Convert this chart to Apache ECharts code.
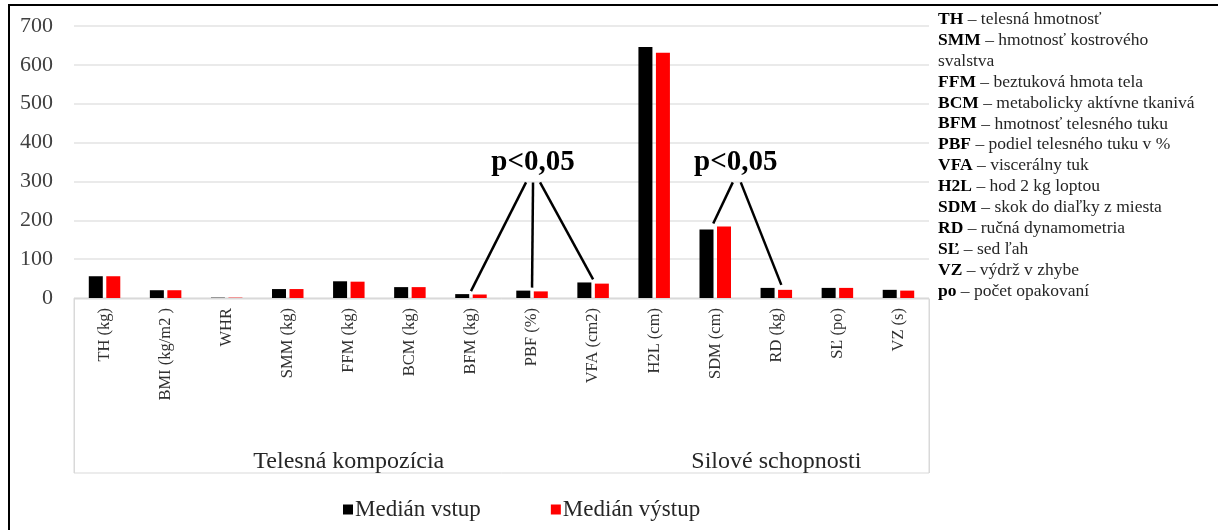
<!DOCTYPE html>
<html>
<head>
<meta charset="utf-8">
<script src="https://cdn.jsdelivr.net/npm/echarts@6/dist/echarts.min.js"></script>
<style>html,body{margin:0;padding:0;background:#fff}#c{width:1218px;height:530px}</style>
</head>
<body>
<div id="c"></div>
<script>
const categories = ["TH (kg)", "BMI (kg/m2 )", "WHR", "SMM (kg)", "FFM (kg)", "BCM (kg)", "BFM (kg)", "PBF (%)", "VFA (cm2)", "H2L (cm)", "SDM (cm)", "RD (kg)", "SĽ (po)", "VZ (s)"];
const groups = [["Telesná kompozícia", 9], ["Silové schopnosti", 5]];
const seriesNames = ["Medián vstup", "Medián výstup"];
const vstup = [56, 20, 0.9, 23, 43, 28, 10, 19, 40, 646, 176, 26, 26, 21];
const vystup = [56, 20, 0.9, 23, 42, 28, 9, 17, 37, 631, 184, 21, 26, 19];
const yTicks = [0, 100, 200, 300, 400, 500, 600, 700];
const sigLabel = "p<0,05";
const sigGroups = [[6, 7, 8], [10, 11]];
const abbrev = [
  ["TH", "telesná hmotnosť"],
  ["SMM", "hmotnosť kostrového\nsvalstva"],
  ["FFM", "beztuková hmota tela"],
  ["BCM", "metabolicky aktívne tkanivá"],
  ["BFM", "hmotnosť telesného tuku"],
  ["PBF", "podiel telesného tuku v %"],
  ["VFA", "viscerálny tuk"],
  ["H2L", "hod 2 kg loptou"],
  ["SDM", "skok do diaľky z miesta"],
  ["RD", "ručná dynamometria"],
  ["SĽ", "sed ľah"],
  ["VZ", "výdrž v zhybe"],
  ["po", "počet opakovaní"]
];

const SERIF = '"Liberation Serif", "DejaVu Serif", serif';
const groupAxisData = [];
const groupLabelIdx = {};
const groupBoundaries = [];
let acc = 0;
groups.forEach(([name, n]) => {
  for (let i = 0; i < n; i++) groupAxisData.push(name);
  groupLabelIdx[acc + Math.floor(n / 2)] = true;
  if (acc > 0) groupBoundaries.push(acc);
  acc += n;
});

const chart = echarts.init(document.getElementById('c'), null, {renderer: 'canvas'});
const GL = 74, GR = 289;
const option = {
  animation: false,
  backgroundColor: '#fff',
  textStyle: {fontFamily: SERIF},
  grid: [
    {left: GL, right: GR, top: 26, bottom: 232, outerBoundsMode: 'none'},
    {left: GL, right: GR, top: 299, bottom: 57, outerBoundsMode: 'none', show: true, borderColor: '#d9d9d9', borderWidth: 1, backgroundColor: 'transparent'}
  ],
  legend: {
    data: seriesNames,
    left: 338, top: 493,
    icon: 'rect', itemWidth: 10, itemHeight: 10, itemGap: 70,
    textStyle: {fontFamily: SERIF, fontSize: 23, color: '#262626', padding: [0, 0, 0, -3]}
  },
  xAxis: [
    {
      type: 'category', gridIndex: 0, data: categories,
      axisLine: {show: true, lineStyle: {color: '#d9d9d9', width: 1}},
      axisTick: {show: false},
      axisLabel: {rotate: 90, interval: 0, margin: 10, fontFamily: SERIF, fontSize: 16.5, color: '#303030'}
    },
    {
      type: 'category', gridIndex: 1, data: groupAxisData,
      axisLine: {show: false}, axisTick: {show: false},
      splitLine: {show: true, interval: (i) => groupBoundaries.indexOf(i) >= 0, lineStyle: {color: '#d9d9d9', width: 1}},
      axisLabel: {inside: true, margin: -1, interval: (i) => !!groupLabelIdx[i], fontFamily: SERIF, fontSize: 24, color: '#262626'}
    }
  ],
  yAxis: [
    {
      type: 'value', gridIndex: 0, min: yTicks[0], max: yTicks[yTicks.length - 1], interval: 100,
      axisLine: {show: false}, axisTick: {show: false},
      splitLine: {lineStyle: {color: '#e3e3e3', width: 1.5}},
      axisLabel: {margin: 21, fontFamily: SERIF, fontSize: 22, color: '#404040'}
    },
    {type: 'value', gridIndex: 1, show: false, min: 0, max: 1}
  ],
  series: [
    {name: seriesNames[0], type: 'bar', data: vstup, barWidth: 14, barGap: '25%', itemStyle: {color: '#000000'}},
    {name: seriesNames[1], type: 'bar', data: vystup, barWidth: 14, barGap: '25%', itemStyle: {color: '#ff0000'}}
  ]
};
chart.setOption(option);

function px(cat, val) { return chart.convertToPixel({xAxisIndex: 0, yAxisIndex: 0}, [cat, val]); }
const graphics = [];
graphics.push({type: 'rect', shape: {x: 9, y: 5, width: 1240, height: 560}, style: {fill: 'none', stroke: '#000', lineWidth: 2}, silent: true});

const textVal = 349;
const sigCenters = [px(sigGroups[0][1], textVal)[0] + 1, (px(sigGroups[1][0], textVal)[0] + px(sigGroups[1][1], textVal)[0]) / 2 - 10];
sigGroups.forEach((g, gi) => {
  const cx = sigCenters[gi];
  const cy = px(0, textVal)[1];
  graphics.push({type: 'text', x: cx, y: cy, style: {text: sigLabel, fontFamily: SERIF, fontWeight: 'bold', fontSize: 29, fill: '#000', align: 'center', verticalAlign: 'middle'}});
  const sy = cy + 20;
  g.forEach((cat, k) => {
    const top = Math.max(vstup[cat], vystup[cat]);
    const end = px(cat, top);
    const sx = cx + (g.length === 3 ? (k - 1) * 7 : (k === 0 ? -3 : 5));
    let ex = end[0];
    if (gi === 1 && k === 0) ex -= 2;
    if (gi === 1 && k === 1) ex += 5;
    graphics.push({type: 'line', shape: {x1: sx, y1: sy, x2: ex, y2: end[1] - 3}, style: {stroke: '#000', lineWidth: 2.5}});
  });
});

let lines = [];
abbrev.forEach(([a, d]) => {
  const parts = d.split('\n');
  lines.push('{b|' + a + '} – ' + parts[0]);
  for (let i = 1; i < parts.length; i++) lines.push(parts[i]);
});
graphics.push({type: 'text', x: 938, y: 9, style: {
  text: lines.join('\n'), fontFamily: SERIF, fontSize: 17.5, lineHeight: 20.9, fill: '#262626', align: 'left', verticalAlign: 'top',
  rich: {b: {fontFamily: SERIF, fontWeight: 'bold', fontSize: 17.5, lineHeight: 20.9, fill: '#000'}}
}});
chart.setOption({graphic: graphics});
</script>
</body>
</html>
